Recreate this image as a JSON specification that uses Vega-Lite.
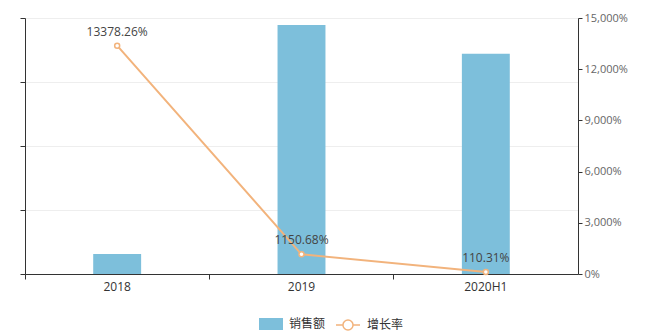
{
  "$schema": "https://vega.github.io/schema/vega-lite/v6.json",
  "width": 553,
  "height": 256,
  "autosize": {"type": "none"},
  "padding": {"left": 25, "top": 18, "right": 71, "bottom": 60},
  "background": "white",
  "config": {
    "view": {"stroke": null},
    "font": "Open Sans",
    "axis": {"labelFont": "Open Sans", "labelFontSize": 12},
    "legend": {"labelFont": "Noto Sans CJK SC", "labelFontSize": 12, "labelColor": "#333"}
  },
  "data": {"values": [
    {"period": "2018", "sales": 31.3, "growth": 13378.26, "label": "13378.26%", "s1": "销售额", "s2": "增长率"},
    {"period": "2019", "sales": 389, "growth": 1150.68, "label": "1150.68%", "s1": "销售额", "s2": "增长率"},
    {"period": "2020H1", "sales": 344, "growth": 110.31, "label": "110.31%", "s1": "销售额", "s2": "增长率"}
  ]},
  "encoding": {
    "x": {
      "field": "period", "type": "nominal", "sort": null,
      "scale": {"paddingInner": 0, "paddingOuter": 0},
      "axis": {"title": null, "labelAngle": 0, "domainColor": "#333", "tickColor": "#333", "bandPosition": 0, "tickSize": 5, "labelColor": "#333", "labelPadding": 2}
    }
  },
  "layer": [
    {
      "mark": {"type": "bar", "width": {"band": 0.26}},
      "encoding": {
        "y": {"field": "sales", "type": "quantitative", "scale": {"domain": [0, 400]},
          "axis": {"title": null, "values": [0, 100, 200, 300, 400], "labels": false, "domainColor": "#333", "tickColor": "#333", "tickSize": 5, "gridColor": "#eeeeee", "orient": "left"}},
        "color": {"field": "s1", "type": "nominal", "scale": {"domain": ["销售额"], "range": ["#7dbfdb"]},
          "legend": {"title": null, "orient": "none", "legendX": 234, "legendY": 294, "symbolType": "M -1 -0.5 H 1 V 0.5 H -1 Z", "symbolSize": 576, "symbolStrokeWidth": 0, "labelOffset": 6}}
      }
    },
    {
      "mark": {"type": "line", "color": "#f2b37c", "strokeWidth": 2},
      "encoding": {
        "y": {"field": "growth", "type": "quantitative", "scale": {"domain": [0, 15000]},
          "axis": {"title": null, "orient": "right", "values": [0, 3000, 6000, 9000, 12000, 15000], "labelExpr": "format(datum.value, ',') + '%'", "grid": false, "domainColor": "#333", "tickColor": "#333", "tickSize": 4, "labelColor": "#666", "labelFontSize": 11, "labelPadding": 2}}
      }
    },
    {
      "mark": {"type": "point", "filled": false, "fill": "white", "fillOpacity": 1, "strokeWidth": 1.5, "size": 25, "opacity": 1},
      "encoding": {
        "y": {"field": "growth", "type": "quantitative", "scale": {"domain": [0, 15000]}, "axis": null},
        "stroke": {"field": "s2", "type": "nominal", "scale": {"domain": ["增长率"], "range": ["#f2b37c"]},
          "legend": {"title": null, "orient": "none", "legendX": 310, "legendY": 294, "symbolType": "M -1 0 H -0.42 M 0.42 0 A 0.42 0.42 0 1 1 -0.42 0 A 0.42 0.42 0 1 1 0.42 0 M 0.42 0 H 1", "symbolSize": 576, "symbolStrokeWidth": 1.5, "symbolFillColor": "white", "labelOffset": 6}}
      }
    },
    {
      "mark": {"type": "text", "dy": -14, "fontSize": 12, "color": "#444"},
      "encoding": {
        "y": {"field": "growth", "type": "quantitative", "scale": {"domain": [0, 15000]}, "axis": null},
        "text": {"field": "label"}
      }
    }
  ],
  "resolve": {"scale": {"y": "independent"}}
}
